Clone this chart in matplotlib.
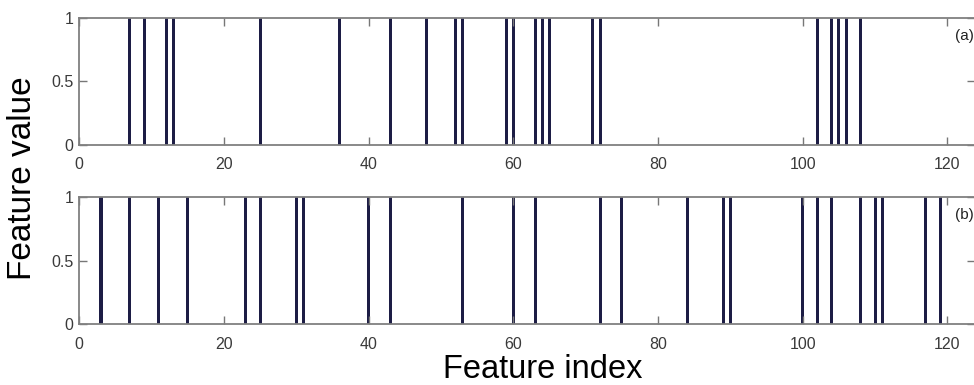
import matplotlib
matplotlib.use("Agg")
from matplotlib import pyplot as plt

# selected feature indices (value = 1) for each panel
feat_a = [7, 9, 12, 13, 25, 36, 43, 48, 52, 53, 59, 60, 63, 64, 65, 71, 72,
          102, 104, 105, 106, 108]
feat_b = [3, 7, 11, 15, 23, 25, 30, 31, 40, 43, 53, 60, 63, 72, 75, 84, 89, 90,
          100, 102, 104, 108, 110, 111, 117, 119]
panel_tags = ['(a)', '(b)']
xticks = [0, 20, 40, 60, 80, 100, 120]
yticks = [0, 0.5, 1]
ytick_labels = ['0', '0.5', '1']

plt.rcParams['font.family'] = ['Liberation Sans', 'DejaVu Sans']

fig = plt.figure(figsize=(9.74, 3.85), dpi=100)
ax_a = fig.add_axes([0.0814, 0.6234, 0.9196, 0.3299])
ax_b = fig.add_axes([0.0814, 0.1584, 0.9196, 0.3299])

for ax, feats, tag in zip([ax_a, ax_b], [feat_a, feat_b], panel_tags):
    ax.bar(feats, [1] * len(feats), width=0.42, color='#1d1d45', linewidth=0)
    ax.set_xlim(0, 123.8)
    ax.set_ylim(0, 1)
    ax.set_xticks(xticks)
    ax.set_yticks(yticks)
    ax.set_yticklabels(ytick_labels)
    ax.tick_params(direction='in', length=6, width=1, color='#777777',
                   labelcolor='#3a3a3a', labelsize=11.5, top=True, right=True)
    ax.tick_params(axis='x', pad=9)
    ax.tick_params(axis='y', pad=4)
    for s in ax.spines.values():
        s.set_color('#808080')
        s.set_linewidth(1.3)
    ax.text(0.9775, 0.86, tag, transform=ax.transAxes, fontsize=11,
            color='#222222', va='center', ha='left')

fig.text(0.023, 0.538, 'Feature value', rotation=90, fontsize=24,
         ha='center', va='center')
fig.text(0.557, 0.039, 'Feature index', fontsize=23.5, ha='center', va='center')

fig.savefig('out.png', dpi=100)
